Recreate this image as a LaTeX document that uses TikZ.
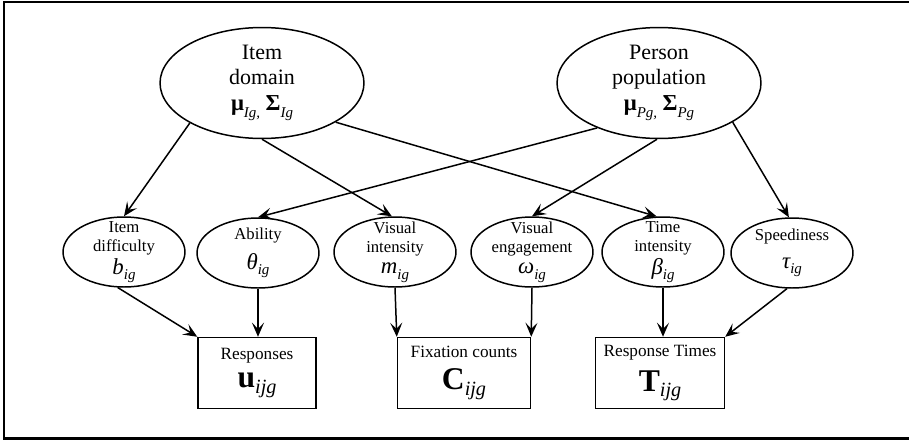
\documentclass[tikz,border=0pt]{standalone}
\usepackage{fontspec}
\setmainfont{Liberation Serif}
\usetikzlibrary{shapes.geometric,arrows.meta}
% lowered italic subscript and the symbols of the nodes
\newcommand\lowsub[2][8.5]{\raisebox{-0.7ex}{\fontsize{#1}{#1}\selectfont\itshape #2}}
\newcommand\varsym[2]{{\fontsize{13}{13}\selectfont\itshape #1}\lowsub{#2}}
\newcommand\datasym[2]{{\fontsize{18}{18}\selectfont\bfseries #1}\lowsub[11.5]{#2}}
\newcommand\hypsym[2]{{\fontsize{13}{13}\selectfont\bfseries #1}\lowsub{#2}}

\begin{document}
\begin{tikzpicture}[x=0.02cm,y=-0.02cm,line width=0.85pt,
	hyper/.style={draw,ellipse,minimum width=4.08cm,minimum height=2.22cm,inner sep=-2pt,align=center,font=\fontsize{12.5}{14}\selectfont},
	latent/.style={draw,ellipse,minimum width=2.44cm,minimum height=1.4cm,inner sep=-4pt,align=center,font=\fontsize{9.5}{11}\selectfont},
	obs/.style={draw,rectangle,minimum height=1.42cm,inner sep=0pt,align=center,font=\fontsize{9.8}{11}\selectfont},
	>={Stealth[length=2.8mm,width=2.4mm,inset=1.2mm]}]
	\useasboundingbox (0,0) rectangle (909,440);
	\draw[line width=1.7pt] (912,2) -- (4,2) -- (4,438) -- (912,438);

	% hyper-parameters
	\node[hyper] (idom) at (262,83) {Item\\domain\\[1pt]\hypsym{μ}{Ig}\lowsub{,}\ \hypsym{Σ}{Ig}};
	\node[hyper] (ppop) at (659,83) {Person\\population\\[1pt]\hypsym{μ}{Pg}\lowsub{,}\ \hypsym{Σ}{Pg}};

	% item and person parameters
	\node[latent] (idiff) at (124,252) {Item\\difficulty\\[1pt]\varsym{b}{ig}};
	\node[latent] (abil) at (258,253) {Ability\\[5pt]\varsym{θ}{ig}};
	\node[latent] (vint) at (395,252) {Visual\\intensity\\[1pt]\varsym{m}{ig}};
	\node[latent] (veng) at (532,252) {Visual\\engagement\\[1pt]\varsym{ω}{ig}};
	\node[latent] (tint) at (663,252) {Time\\intensity\\[1pt]\varsym{β}{ig}};
	\node[latent] (speed) at (792,253) {Speediness\\[5pt]\varsym{τ}{ig}};

	% data
	\node[obs,minimum width=2.36cm] (resp) at (257,373) {Responses\\[5pt]\datasym{u}{ijg}};
	\node[obs,minimum width=2.66cm] (fix) at (464,373) {Fixation counts\\[5pt]\datasym{C}{ijg}};
	\node[obs,minimum width=2.58cm] (rtime) at (660,373) {Response Times\\[5pt]\datasym{T}{ijg}};

	\draw[->] (idom.209) -- (idiff.north);
	\draw[->] (idom.south) -- (vint.95);
	\draw[->] (idom.332) -- (tint.100);
	\draw[->] (ppop.216) -- (abil.north);
	\draw[->] (ppop.268) -- (veng.north);
	\draw[->] (ppop.332) -- (speed.95);

	\draw[->] (idiff.260) -- (resp.north west);
	\draw[->] (abil.south) -- (abil.south |- resp.north);
	\draw[->] (vint.south) -- (fix.north west);
	\draw[->] (veng.south) -- (fix.north east);
	\draw[->] (tint.south) -- (tint.south |- rtime.north);
	\draw[->] (speed.262) -- (rtime.north east);
\end{tikzpicture}
\end{document}
